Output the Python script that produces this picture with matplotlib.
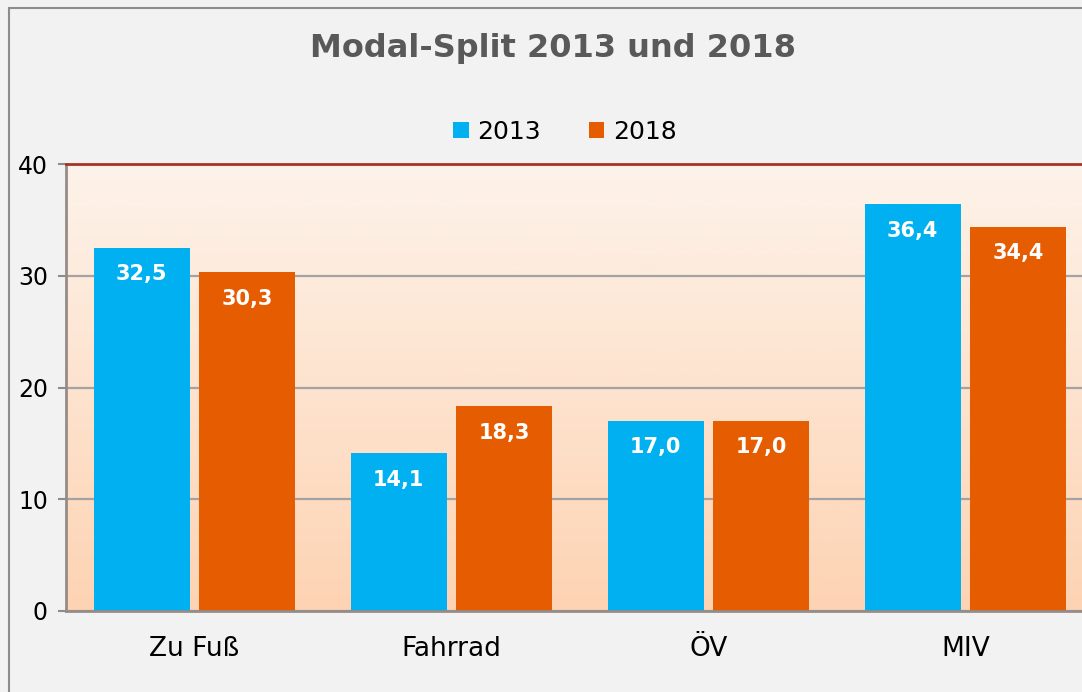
import matplotlib
matplotlib.use("Agg")
import matplotlib.pyplot as plt
import numpy as np
from matplotlib.patches import Rectangle
from matplotlib.colors import LinearSegmentedColormap

categories = ["Zu Fuß", "Fahrrad", "ÖV", "MIV"]
series_names = ["2013", "2018"]
values_2013 = [32.5, 14.1, 17.0, 36.4]
values_2018 = [30.3, 18.3, 17.0, 34.4]
yticks = [0, 10, 20, 30, 40]
title = "Modal-Split 2013 und 2018"

c2013 = "#00b0f0"
c2018 = "#e65c00"

plt.rcParams['font.family'] = ['DejaVu Sans']
fig = plt.figure(figsize=(10.82, 6.92), dpi=100)
fig.patch.set_facecolor("#f2f2f2")

# figure border (only left/top visible)
fig.patches.append(Rectangle((9/1082, -0.1), 1.2, 1 - 8/692 + 0.1, transform=fig.transFigure,
                             fill=False, edgecolor="#8c8c8c", linewidth=1.5, zorder=0))

ax = fig.add_axes([66/1082, 1 - 611/692, 1028/1082, 447/692])

# gradient background (light at top, peach at bottom)
cmap = LinearSegmentedColormap.from_list("g", ["#fdf3ea", "#fdd3b3"])
grad = np.linspace(0, 1, 256).reshape(-1, 1)
ax.imshow(grad, aspect="auto", cmap=cmap, extent=[-0.5, 3.5, 0, 40], origin="upper", zorder=0)
ax.set_xlim(-0.5, 3.5)
ax.set_ylim(0, 40)

ax.set_yticks(yticks)
ax.yaxis.grid(True, color="#a3a3a3", linewidth=1.6, zorder=1)
ax.set_axisbelow(True)

x = np.arange(len(categories))
w = 0.3735
off = 0.206
b1 = ax.bar(x - off, values_2013, w, color=c2013, zorder=2, label=series_names[0])
b2 = ax.bar(x + off, values_2018, w, color=c2018, zorder=2, label=series_names[1])

for bars, vals in [(b1, values_2013), (b2, values_2018)]:
    for r, v in zip(bars, vals):
        ax.annotate(f"{v:.1f}".replace(".", ","), (r.get_x() + r.get_width() / 2, v),
                    xytext=(0, -19), textcoords="offset points", ha="center", va="center",
                    color="white", fontsize=15, fontweight="bold", zorder=3)

ax.set_xticks(x)
ax.set_xticklabels(categories, fontsize=19)
ax.tick_params(axis="x", length=0, pad=18)
ax.tick_params(axis="y", length=6, width=1.5, color="#8c8c8c", labelsize=17, pad=7)
for lbl in ax.get_yticklabels():
    lbl.set_horizontalalignment("right")

for s in ["left", "bottom"]:
    ax.spines[s].set_color("#968c87")
    ax.spines[s].set_linewidth(2)
ax.spines["right"].set_visible(False)
ax.spines["top"].set_color("#a63426")
ax.spines["top"].set_linewidth(2)

fig.text(553/1082, 1 - 48/692, title, ha="center", va="center", fontsize=23,
         fontweight="bold", color="#595959")

leg = fig.legend(handles=[b1, b2], labels=series_names, loc="center",
                 bbox_to_anchor=(565/1082, 1 - 132/692), ncol=2, frameon=False,
                 fontsize=18, handlelength=0.62, handleheight=0.62, handletextpad=0.35,
                 columnspacing=1.9)

fig.savefig("out.png", dpi=100, facecolor=fig.get_facecolor())
